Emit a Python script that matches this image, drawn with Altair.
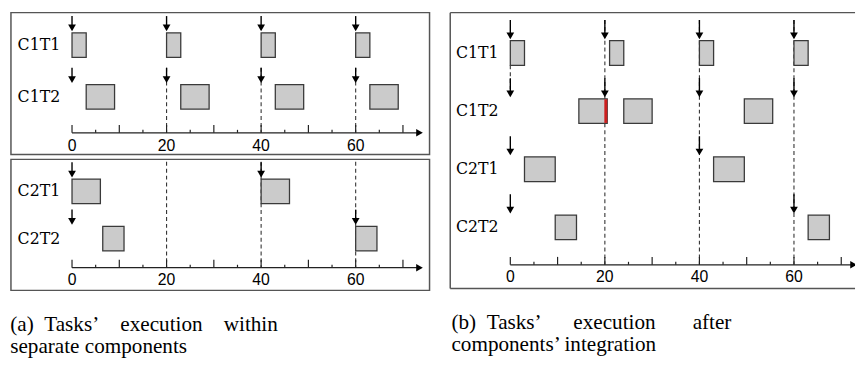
import altair as alt
import pandas as pd

# ---------------- data ----------------
TICKS_MAJOR = [0, 10, 20, 30, 40, 50, 60, 70]
TICKS_MINOR = [5, 15, 25, 35, 45, 55, 65]
TICK_LABELS = [0, 20, 40, 60]

# (a) component 1, executed alone
A1_ROWS = ["C1T1", "C1T2"]
A1_JOB_TASK = ["C1T1", "C1T1", "C1T1", "C1T1", "C1T2", "C1T2", "C1T2", "C1T2"]
A1_JOB_START = [0, 20, 40, 60, 3, 23, 43, 63]
A1_JOB_END = [3, 23, 43, 63, 9, 29, 49, 69]
A1_REL_TASK = ["C1T1", "C1T1", "C1T1", "C1T1", "C1T2", "C1T2", "C1T2", "C1T2"]
A1_REL_TIME = [0, 20, 40, 60, 0, 20, 40, 60]
A1_GUIDES = [20, 40, 60]
A1_GUIDE_FROM = ["C1T2", "C1T2", "C1T2"]

# (a) component 2, executed alone
A2_ROWS = ["C2T1", "C2T2"]
A2_JOB_TASK = ["C2T1", "C2T1", "C2T2", "C2T2"]
A2_JOB_START = [0, 40, 6.5, 60]
A2_JOB_END = [6, 46, 11, 64.5]
A2_REL_TASK = ["C2T1", "C2T1", "C2T2", "C2T2"]
A2_REL_TIME = [0, 40, 0, 60]
A2_GUIDES = [20, 40, 60]
A2_GUIDE_FROM = ["C2T1", "C2T1", "C2T1"]

# (b) after integration
B_ROWS = ["C1T1", "C1T2", "C2T1", "C2T2"]
B_JOB_TASK = ["C1T1", "C1T1", "C1T1", "C1T1", "C1T2", "C1T2", "C1T2",
              "C2T1", "C2T1", "C2T2", "C2T2"]
B_JOB_START = [0, 21, 40, 60, 14.5, 24, 49.5, 3, 43, 9.5, 63]
B_JOB_END = [3, 24, 43, 63, 20.5, 30, 55.5, 9.5, 49.5, 14, 67.5]
B_REL_TASK = ["C1T1", "C1T1", "C1T1", "C1T1", "C1T2", "C1T2", "C1T2", "C1T2",
              "C2T1", "C2T1", "C2T2", "C2T2"]
B_REL_TIME = [0, 20, 40, 60, 0, 20, 40, 60, 0, 40, 0, 60]
B_GUIDES = [20, 40, 60]
B_GUIDE_FROM = ["C1T1", "C1T1", "C1T1"]
B_SHORT_GUIDE = [0]
B_SHORT_FROM = ["C1T1"]
B_MISS_TASK = ["C1T2"]
B_MISS_TIME = [20.2]

NB = "\u00a0"
CAPTION_A = ["(a)" + NB * 2 + "Tasks\u2019" + NB * 4 + "execution" + NB * 4 + "within",
             "separate components"]
CAPTION_B = ["(b)" + NB * 2 + "Tasks\u2019" + NB * 6 + "execution" + NB * 7 + "after",
             "components\u2019 integration"]

# ---------------- styles ----------------
PX_PER_UNIT = 4.8
HALF = 12.5
FRAME = "#555555"
BAR_FILL = "#cbcbcb"
BAR_STROKE = "#3a3a3a"
LBL_FONT = "DejaVu Serif"
NUM_FONT = "Liberation Sans"
CAP_FONT = "Liberation Serif"
CAP_SIZE = 21.5

dummy = pd.DataFrame({"k": [0]})


def panel(rows, job_task, job_start, job_end, rel_task, rel_time,
          guides, guide_from, guide_off, W, H, lane0, sp, axis_px, t0_px,
          arrow_len, axis_end, clip_arrow=False, extra=None):
    lane_of = {r: i for i, r in enumerate(rows)}
    axis_lane = (axis_px - lane0) / sp
    xs = alt.Scale(domain=[-t0_px / PX_PER_UNIT, (W - t0_px) / PX_PER_UNIT], nice=False, zero=False)
    ys = alt.Scale(domain=[-lane0 / sp, (H - lane0) / sp], nice=False, zero=False, reverse=True)

    def X(f):
        return alt.X(f, type="quantitative", scale=xs, axis=None)

    def Y(f):
        return alt.Y(f, type="quantitative", scale=ys, axis=None)

    def XD(v):
        return alt.XDatum(v, type="quantitative", scale=xs, axis=None)

    def YD(v):
        return alt.YDatum(v, type="quantitative", scale=ys, axis=None)

    jobs = pd.DataFrame({"task": job_task, "start": job_start, "end": job_end})
    jobs["lane"] = jobs["task"].map(lane_of)
    rels = pd.DataFrame({"task": rel_task, "t": rel_time})
    rels["lane"] = rels["task"].map(lane_of)
    gd = pd.DataFrame({"t": guides, "task": guide_from})
    gd["lane"] = gd["task"].map(lane_of)
    rowdf = pd.DataFrame({"task": rows})
    rowdf["lane"] = rowdf["task"].map(lane_of)
    major = pd.DataFrame({"t": TICKS_MAJOR})
    minor = pd.DataFrame({"t": TICKS_MINOR})
    tl = pd.DataFrame({"t": TICK_LABELS})
    tl["label"] = tl["t"].astype(str)

    layers = []
    layers.append(alt.Chart(gd).mark_rule(color="#333333", strokeWidth=1.1, strokeDash=[4, 3],
                                          yOffset=guide_off).encode(
        x=X("t"), y=Y("lane"), y2=alt.Y2Datum(axis_lane)))
    if extra is not None:
        layers += extra(X, Y, XD, YD, lane_of)
    layers.append(alt.Chart(jobs).mark_rect(fill=BAR_FILL, stroke=BAR_STROKE, strokeWidth=1.3,
                                            yOffset=-HALF, y2Offset=HALF).encode(
        x=X("start"), x2="end", y=Y("lane"), y2="lane"))
    layers.append(alt.Chart(rels).mark_rule(color="black", strokeWidth=1.4,
                                            yOffset=-(HALF + arrow_len), y2Offset=-(HALF + 5)).encode(
        x=X("t"), y=Y("lane"), y2="lane"))
    layers.append(alt.Chart(rels).mark_point(shape="triangle-down", filled=True, color="black",
                                             opacity=1, size=62, yOffset=-(HALF + 5)).encode(
        x=X("t"), y=Y("lane")))
    layers.append(alt.Chart(rowdf).mark_text(align="right", baseline="middle", dx=-12,
                                             font=LBL_FONT, fontSize=16, color="black").encode(
        x=XD(0), y=Y("lane"), text="task:N"))
    # time axis
    layers.append(alt.Chart(dummy).mark_rule(color="#222222", strokeWidth=1.3).encode(
        x=XD(0), x2=alt.X2Datum(axis_end), y=YD(axis_lane)))
    layers.append(alt.Chart(dummy).mark_point(shape="triangle-right", filled=True, color="black",
                                              opacity=1, size=60, clip=clip_arrow).encode(
        x=XD(axis_end), y=YD(axis_lane)))
    layers.append(alt.Chart(major).mark_rule(color="#222222", strokeWidth=1.2, yOffset=-8).encode(
        x=X("t"), y=YD(axis_lane), y2=alt.Y2Datum(axis_lane)))
    layers.append(alt.Chart(minor).mark_rule(color="#222222", strokeWidth=1.2, yOffset=-3).encode(
        x=X("t"), y=YD(axis_lane), y2=alt.Y2Datum(axis_lane)))
    layers.append(alt.Chart(tl).mark_text(baseline="middle", dy=13, font=NUM_FONT, fontSize=16,
                                          color="black").encode(
        x=X("t"), y=YD(axis_lane), text="label:N"))
    return layers


a1 = alt.layer(*panel(A1_ROWS, A1_JOB_TASK, A1_JOB_START, A1_JOB_END, A1_REL_TASK, A1_REL_TIME,
                      A1_GUIDES, A1_GUIDE_FROM, -29.5,
                      W=425, H=144, lane0=33, sp=52.5, axis_px=122, t0_px=62,
                      arrow_len=17, axis_end=73.5)).properties(width=425, height=144)

a2 = alt.layer(*panel(A2_ROWS, A2_JOB_TASK, A2_JOB_START, A2_JOB_END, A2_REL_TASK, A2_REL_TIME,
                      A2_GUIDES, A2_GUIDE_FROM, -30,
                      W=425, H=133, lane0=32.5, sp=48, axis_px=110, t0_px=62,
                      arrow_len=17, axis_end=73.5)).properties(width=425, height=133)

BW, BH = 411, 280


def b_layers():
    holder = {}

    def extra(X, Y, XD, YD, lane_of):
        sg = pd.DataFrame({"t": B_SHORT_GUIDE, "task": B_SHORT_FROM})
        sg["lane"] = sg["task"].map(lane_of)
        sg["lane2"] = sg["lane"] + 1
        miss = pd.DataFrame({"t": B_MISS_TIME, "task": B_MISS_TASK})
        miss["lane"] = miss["task"].map(lane_of)
        holder["miss"] = (miss, X, Y)
        return [
            alt.Chart(sg).mark_rule(color="#333333", strokeWidth=1.1, strokeDash=[4, 3],
                                    yOffset=HALF, y2Offset=-(HALF + 10)).encode(
                x=X("t"), y=Y("lane"), y2="lane2"),
            alt.Chart(dummy).mark_rule(color=FRAME, strokeWidth=1.5).encode(
                x=alt.value(0), y=alt.value(0), y2=alt.value(BH)),
            alt.Chart(dummy).mark_rule(color=FRAME, strokeWidth=1.5).encode(
                x=alt.value(0), x2=alt.value(BW), y=alt.value(0)),
            alt.Chart(dummy).mark_rule(color=FRAME, strokeWidth=1.5).encode(
                x=alt.value(0), x2=alt.value(BW), y=alt.value(BH)),
        ]

    ls = panel(B_ROWS, B_JOB_TASK, B_JOB_START, B_JOB_END, B_REL_TASK, B_REL_TIME,
               B_GUIDES, B_GUIDE_FROM, -(HALF + 21),
               W=BW, H=BH, lane0=41, sp=59, axis_px=256, t0_px=61,
               arrow_len=21, axis_end=72.6, clip_arrow=True, extra=extra)
    miss, X, Y = holder["miss"]
    ls.insert(6, alt.Chart(miss).mark_rule(color="#cc1f1f", strokeWidth=3,
                                           yOffset=-HALF + 0.5, y2Offset=HALF - 0.5).encode(
        x=X("t"), y=Y("lane"), y2="lane"))
    return ls


b = alt.layer(*b_layers()).properties(
    width=BW, height=BH,
    view=alt.ViewBackground(stroke="transparent"),
    title=alt.TitleParams(CAPTION_B, orient="bottom", anchor="start", font=CAP_FONT, fontSize=CAP_SIZE,
                          fontWeight="normal", color="black", offset=23, lineHeight=23,
                          baseline="top", dx=2),
)

a = alt.vconcat(a1, a2, spacing=3).properties(
    title=alt.TitleParams(CAPTION_A, orient="bottom", anchor="start", font=CAP_FONT, fontSize=CAP_SIZE,
                          fontWeight="normal", color="black", offset=23, lineHeight=23,
                          baseline="top", dx=0),
)

chart = alt.hconcat(a, b, spacing=18).properties(
    padding={"left": 2, "top": 0, "right": 0, "bottom": 0}
).configure_view(stroke=FRAME, strokeWidth=1.5)

chart.save("out.html", embed_options={"renderer": "svg", "actions": False})
